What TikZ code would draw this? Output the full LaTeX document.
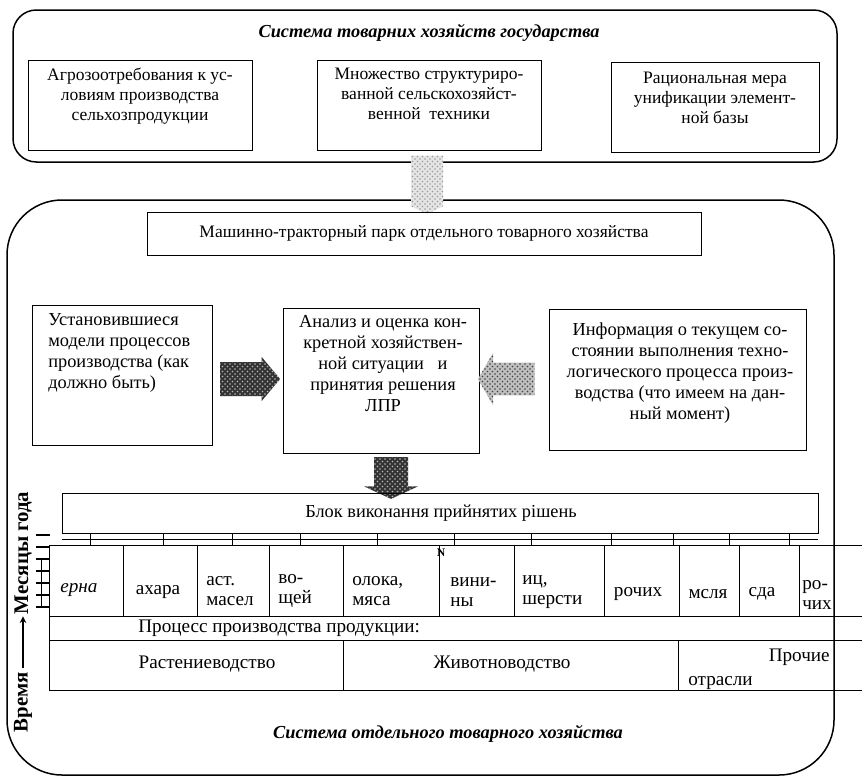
\documentclass[tikz,border=0pt]{standalone}
\usepackage{fontspec}
\setmainfont{Liberation Serif}
\usetikzlibrary{positioning,fit,shapes.arrows,patterns}
\tikzstyle{box}=[draw=black, line width=0.6pt, inner sep=0pt]
\tikzstyle{frame}=[draw=black, line width=0.9pt, inner sep=0pt]
\tikzstyle{toptxt}=[inner sep=0pt, align=center, font=\fontsize{10.5}{12}\selectfont]
\tikzstyle{midtxt}=[inner sep=0pt, font=\fontsize{11}{12.6}\selectfont]
\tikzstyle{celltxt}=[inner sep=0pt, align=left, font=\fontsize{11.5}{12}\selectfont]
\tikzstyle{rowtxt}=[inner sep=0pt, font=\fontsize{11.5}{13}\selectfont]
\tikzstyle{ttl}=[inner sep=0pt, font=\fontsize{11}{13}\selectfont\bfseries\itshape]
\tikzstyle{side}=[inner sep=0pt, rotate=90, font=\fontsize{12.5}{13}\selectfont\bfseries]
\tikzstyle{fat}=[single arrow, inner sep=10pt, single arrow head extend=3pt]
\tikzstyle{dark}=[preaction={fill=black!80}, pattern=crosshatch dots, pattern color=gray!55]
\tikzstyle{light}=[preaction={fill=gray!50}, pattern=crosshatch dots, pattern color=black!75]
\tikzstyle{pale}=[preaction={fill=gray!20}, pattern=crosshatch dots, pattern color=gray!80]

\begin{document}
\begin{tikzpicture}[x=0.6pt,y=-0.6pt]
\useasboundingbox (0,0) rectangle (862,779);

% state level
\node[frame, rounded corners=14pt, fit={(13,10) (837,162)}] (gos) {};
\node[ttl] (gosT) at (429,33) {Система товарних хозяйств государства};
\node[box, fit={(28,60) (252,150)}] (agro) {};
\node[box, fit={(317,60) (541,150)}] (mnog) {};
\node[box, fit={(611,62) (819,152)}] (unif) {};
\node[toptxt, below=4.8pt of agro.north] (agroT) {Агрозоотребования к ус-\\ловиям производства\\сельхозпродукции};
\node[toptxt, below=4.8pt of mnog.north] (mnogT) {Множество структуриро-\\ванной сельскохозяйст-\\венной \ техники};
\node[toptxt, below=6pt of unif.north] (unifT) {Рациональная мера\\унификации элемент-\\ной базы};

% farm level
\node[frame, rounded corners=33pt, fit={(7,200) (834,775)}] (hoz) {};
\node[single arrow, pale, inner sep=0pt, shape border rotate=270, minimum height=34.8pt, minimum width=19.2pt,
      single arrow head extend=0pt, single arrow tip angle=130] (link) at (427,181) {};
\node[box, fit={(147,212) (701,255)}] (park) {};
\node[toptxt] (parkT) at (park.center) {Машинно-тракторный парк отдельного товарного хозяйства};

\node[box, fit={(32,305) (212,445)}] (ust) {};
\node[box, fit={(283,308) (479,453)}] (anal) {};
\node[box, fit={(549,309) (806,450)}] (info) {};
\node[midtxt, align=left, anchor=north west] (ustT) at (48,313) {Установившиеся\\модели процессов\\производства (как\\должно быть)};
\node[midtxt, align=center, anchor=north] (analT) at (383,315) {Анализ и оценка кон-\\кретной хозяйствен-\\ной ситуации \ \ и\\принятия решения\\ЛПР};
\node[midtxt, align=center, anchor=north] (infoT) at (680,322) {Информация о текущем со-\\стоянии выполнения техно-\\логического процесса произ-\\водства (что имеем на дан-\\ный момент)};

\node[fat, dark, minimum height=36pt, single arrow tip angle=100] (toAnal) at (243,379) {};
\node[fat, light, shape border rotate=180, inner sep=9.6pt, minimum height=34pt,
      single arrow head extend=6pt, single arrow tip angle=120] (fromInfo) at (511,379) {};
\node[fat, dark, shape border rotate=270, single arrow head extend=6pt,
      single arrow tip angle=130] (toBlok) at (391,474) {};

\node[box, fit={(62,493) (818,533)}] (blok) {};
\node[midtxt] (blokT) at (441,513) {Блок виконання прийнятих рішень};
\coordinate (lad0) at (62,539);
\coordinate (lad1) at (818,539);
\draw[line width=0.6pt] (lad0) -- (lad1);
\foreach \sx in {90,163,232,300,377,454,531,611,673,729,789}
  \draw[line width=0.6pt] (\sx,533) -- (\sx,545);

% months
\foreach \xa/\xb/\nm in {49/123/m1,123/197/m2,197/269/m3,269/343/m4,343/439/m5,439/514/m6,
                         514/604/m7,604/679/m8,679/739/m9,739/799/m10,799/875/m11}
  \node[box, fit={(\xa,545) (\xb,616)}] (\nm) {};
\node[celltxt, anchor=west] (m1T) at (60,590) {\itshape ерна};
\node[celltxt] (m2T) at (158,592) {ахара};
\node[celltxt, anchor=west] (m3T) at (206,591) {аст.\\масел};
\node[celltxt, anchor=west] (m4T) at (278,591) {во-\\щей};
\node[celltxt, anchor=west] (m5T) at (352,591) {олока,\\мяса};
\node[celltxt, anchor=west] (m6T) at (450,592) {вини-\\ны};
\node[celltxt, anchor=west] (m7T) at (522,592) {иц,\\шерсти};
\node[celltxt] (m8T) at (638,594) {рочих};
\node[celltxt] (m9T) at (708,594) {мсля};
\node[celltxt] (m10T) at (762,594) {сда};
\node[celltxt, anchor=west] (m11T) at (802,595) {ро-\\чих};
\node[inner sep=0pt, font=\fontsize{7}{7}\selectfont\bfseries] (frag) at (441,553) {N};

% production
\node[box, fit={(49,616) (875,640)}] (proc) {};
\node[box, fit={(49,640) (343,690)}] (rast) {};
\node[box, fit={(343,640) (678,690)}] (zhiv) {};
\node[box, fit={(678,640) (875,690)}] (proch) {};
\node[rowtxt, anchor=west] (procT) at (138,628) {Процесс производства продукции:};
\node[rowtxt] (rastT) at (207,664) {Растениеводство};
\node[rowtxt] (zhivT) at (502,664) {Животноводство};
\node[rowtxt, anchor=east] (prochT) at (830,657) {Прочие};
\node[rowtxt, anchor=west] (otrT) at (688,683) {отрасли};

\node[ttl] (hozT) at (448,734) {Система отдельного товарного хозяйства};

% time axis
\node[side] (vrem) at (23,702) {Время};
\node[side] (mes) at (23,553) {Месяцы года};
\draw[-stealth, line width=0.8pt, shorten <=2pt, shorten >=1pt] (vrem) -- (mes);
\foreach \ty in {535,547,559,571,583,595,607}
  \draw[line width=0.8pt] (36,\ty) -- (50,\ty);
\draw[line width=0.6pt] (41,559) -- (41,607);
\end{tikzpicture}
\end{document}
